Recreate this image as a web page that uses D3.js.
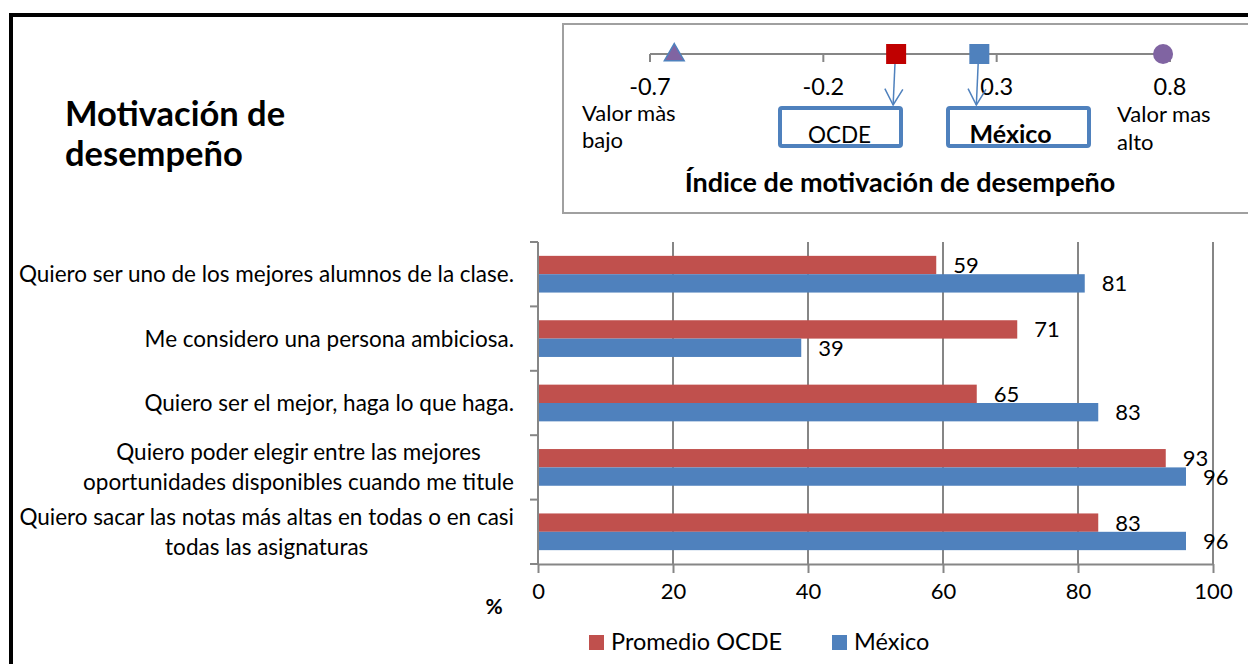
<!DOCTYPE html>
<html lang="es">
<head>
  <meta charset="UTF-8" />
  <title>Motivación de desempeño</title>
  <script src="https://d3js.org/d3.v7.min.js"></script>
  <style>
    body {
      margin: 0;
      padding: 0;
      background: #fff;
      font-family: Lato, "Open Sans", sans-serif;
    }

    svg text {
      fill: #000;
    }

    .grid line,
    .axis path,
    .axis line {
      stroke: #868686;
      stroke-width: 2;
    }
  </style>
</head>

<body>
  <script>
    // categories, top to bottom (multi-line labels split with "|")
    var categories = [
      "Quiero ser uno de los mejores alumnos de la clase.",
      "Me considero una persona ambiciosa.",
      "Quiero ser el mejor, haga lo que haga.",
      "Quiero poder elegir entre las mejores|oportunidades disponibles cuando me titule",
      "Quiero sacar las notas más altas en todas o en casi|todas las asignaturas"
    ];
    var seriesNames = ["Promedio OCDE", "México"];
    var ocdeValues = [59, 71, 65, 93, 83];
    var mexicoValues = [81, 39, 83, 96, 96];
    var xTicks = [0, 20, 40, 60, 80, 100];

    // index of performance motivation (inset)
    var indexTicks = [-0.7, -0.2, 0.3, 0.8];
    var indexMin = -0.63;
    var indexOcde = 0.01;
    var indexMexico = 0.25;
    var indexMax = 0.78;

    var colors = { "Promedio OCDE": "#c0504d", "México": "#4f81bd" };

    var W = 1248, H = 664;
    var svg = d3.select("body").append("svg")
      .attr("width", W)
      .attr("height", H);

    // outer black frame (runs off the right and bottom edges)
    svg.append("rect")
      .attr("x", 11).attr("y", 15)
      .attr("width", 1400).attr("height", 800)
      .attr("fill", "none")
      .attr("stroke", "#000")
      .attr("stroke-width", 4);

    // title
    var title = svg.append("text")
      .style("font-size", "34.5px")
      .style("font-weight", "bold");
    title.append("tspan").attr("x", 65).attr("y", 126).text("Motivación de");
    title.append("tspan").attr("x", 65).attr("y", 166).text("desempeño");

    // ---- inset: índice de motivación ----
    svg.append("rect")
      .attr("x", 563).attr("y", 24)
      .attr("width", 800).attr("height", 189)
      .attr("fill", "#fff")
      .attr("stroke", "#a0a0a0")
      .attr("stroke-width", 2);

    var ix = d3.scaleLinear().domain([-0.7, 0.8]).range([650, 1170]);
    var iy = 54;

    var idx = svg.append("g");
    idx.append("line")
      .attr("x1", ix(-0.7)).attr("x2", ix(indexMax))
      .attr("y1", iy).attr("y2", iy)
      .attr("stroke", "#868686").attr("stroke-width", 2);
    idx.selectAll(".itick")
      .data(indexTicks)
      .enter().append("line")
      .attr("x1", function (d) { return ix(d); })
      .attr("x2", function (d) { return ix(d); })
      .attr("y1", iy).attr("y2", iy + 8)
      .attr("stroke", "#868686").attr("stroke-width", 2);
    idx.selectAll(".ilabel")
      .data(indexTicks)
      .enter().append("text")
      .attr("x", function (d) { return ix(d); })
      .attr("y", 95)
      .attr("text-anchor", "middle")
      .style("font-size", "23.5px")
      .text(function (d) { return d.toFixed(1); });

    // arrow heads
    var defs = svg.append("defs");
    defs.append("marker")
      .attr("id", "arrow")
      .attr("viewBox", "0 0 20 20")
      .attr("refX", 18).attr("refY", 10)
      .attr("markerWidth", 20).attr("markerHeight", 20)
      .attr("markerUnits", "userSpaceOnUse")
      .attr("orient", "auto")
      .append("path")
      .attr("d", "M2,1 L18,10 L2,19")
      .attr("fill", "none")
      .attr("stroke", "#4f81bd")
      .attr("stroke-width", 1.5);

    // boxes under the axis
    var boxes = [
      { name: "OCDE", v: indexOcde, x: 780, w: 121, bold: false, dx: -1 },
      { name: "México", v: indexMexico, x: 948, w: 141, bold: true, dx: -8 }
    ];
    idx.selectAll(".ibox")
      .data(boxes)
      .enter().append("rect")
      .attr("x", function (d) { return d.x; })
      .attr("y", 108)
      .attr("width", function (d) { return d.w; })
      .attr("height", 38)
      .attr("rx", 2)
      .attr("fill", "none")
      .attr("stroke", "#4f81bd")
      .attr("stroke-width", 4);
    idx.selectAll(".iboxlabel")
      .data(boxes)
      .enter().append("text")
      .attr("x", function (d) { return d.x + d.w / 2 + d.dx; })
      .attr("y", 143)
      .attr("text-anchor", "middle")
      .style("font-size", function (d) { return d.bold ? "25px" : "22.5px"; })
      .style("font-weight", function (d) { return d.bold ? "bold" : "normal"; })
      .text(function (d) { return d.name; });
    idx.selectAll(".iarrow")
      .data(boxes)
      .enter().append("line")
      .attr("x1", function (d) { return ix(d.v) - 1; })
      .attr("x2", function (d) { return ix(d.v) - 3; })
      .attr("y1", iy + 6).attr("y2", 105)
      .attr("stroke", "#4f81bd")
      .attr("stroke-width", 1.5)
      .attr("marker-end", "url(#arrow)");

    // markers on the axis
    var sym = d3.symbol().type(d3.symbolTriangle).size(170);
    idx.append("path")
      .attr("d", sym())
      .attr("transform", "translate(" + ix(indexMin) + "," + (iy + 1) + ")")
      .attr("fill", "#8064a2")
      .attr("stroke", "#4f81bd")
      .attr("stroke-width", 1.5);
    idx.append("rect")
      .attr("x", ix(indexOcde) - 10).attr("y", iy - 10)
      .attr("width", 20).attr("height", 20)
      .attr("fill", "#c00000");
    idx.append("rect")
      .attr("x", ix(indexMexico) - 10).attr("y", iy - 10)
      .attr("width", 20).attr("height", 20)
      .attr("fill", "#4f81bd");
    idx.append("circle")
      .attr("cx", ix(indexMax)).attr("cy", iy)
      .attr("r", 10)
      .attr("fill", "#8064a2");

    // end labels
    var lowLab = idx.append("text").style("font-size", "22px");
    lowLab.append("tspan").attr("x", 582).attr("y", 121).text("Valor màs");
    lowLab.append("tspan").attr("x", 582).attr("y", 148).text("bajo");
    var highLab = idx.append("text").style("font-size", "22px");
    highLab.append("tspan").attr("x", 1117).attr("y", 122).text("Valor mas");
    highLab.append("tspan").attr("x", 1117).attr("y", 150).text("alto");

    idx.append("text")
      .attr("x", 900).attr("y", 192)
      .attr("text-anchor", "middle")
      .style("font-size", "27px")
      .style("font-weight", "bold")
      .text("Índice de motivación de desempeño");

    // ---- bar chart ----
    var plot = { left: 538, right: 1213, top: 242, bottom: 564 };

    var x = d3.scaleLinear().domain([0, 100]).range([plot.left, plot.right]);
    var y = d3.scaleBand().domain(categories)
      .range([plot.top, plot.bottom])
      .paddingInner(0.43).paddingOuter(0.215);
    var ySeries = d3.scaleBand().domain(seriesNames).range([0, y.bandwidth()]);

    var rows = categories.map(function (c, i) {
      return { cat: c, values: [
        { series: seriesNames[0], v: ocdeValues[i] },
        { series: seriesNames[1], v: mexicoValues[i] }
      ] };
    });

    // vertical gridlines
    svg.append("g").attr("class", "grid")
      .selectAll("line")
      .data(xTicks.slice(1))
      .enter().append("line")
      .attr("x1", function (d) { return x(d); })
      .attr("x2", function (d) { return x(d); })
      .attr("y1", plot.top).attr("y2", plot.bottom);

    // bottom axis
    var xAxis = svg.append("g").attr("class", "axis")
      .attr("transform", "translate(0," + plot.bottom + ")")
      .call(d3.axisBottom(x).tickValues(xTicks).tickSize(9).tickSizeOuter(0).tickPadding(10));
    xAxis.selectAll("text")
      .style("font-size", "22px")
      .style("font-family", "Lato, sans-serif")
      .attr("fill", "#000");

    // left axis: line plus ticks at category boundaries
    var boundaries = d3.range(categories.length + 1).map(function (i) {
      return plot.top + i * y.step();
    });
    var yAxisG = svg.append("g").attr("class", "axis");
    yAxisG.append("line")
      .attr("x1", plot.left).attr("x2", plot.left)
      .attr("y1", plot.top).attr("y2", plot.bottom);
    yAxisG.selectAll(".btick")
      .data(boundaries)
      .enter().append("line")
      .attr("x1", plot.left - 8).attr("x2", plot.left)
      .attr("y1", function (d) { return d; })
      .attr("y2", function (d) { return d; });

    // bars
    var groups = svg.selectAll(".cat")
      .data(rows)
      .enter().append("g")
      .attr("transform", function (d) { return "translate(0," + y(d.cat) + ")"; });

    groups.selectAll("rect")
      .data(function (d) { return d.values; })
      .enter().append("rect")
      .attr("x", plot.left + 1)
      .attr("y", function (d) { return ySeries(d.series); })
      .attr("width", function (d) { return x(d.v) - plot.left - 1; })
      .attr("height", ySeries.bandwidth())
      .attr("fill", function (d) { return colors[d.series]; });

    groups.selectAll(".val")
      .data(function (d) { return d.values; })
      .enter().append("text")
      .attr("x", function (d) { return x(d.v) + 17; })
      .attr("y", function (d) { return ySeries(d.series) + ySeries.bandwidth() / 2 + 8; })
      .style("font-size", "22px")
      .text(function (d) { return d.v; });

    // category labels, lines centred on each other, block right-aligned
    var labelRight = 514;
    svg.selectAll(".catlabel")
      .data(categories)
      .enter().append("text")
      .attr("class", "catlabel")
      .style("font-size", "22.5px")
      .each(function (c) {
        var t = d3.select(this);
        var lines = c.split("|");
        var cy = y(c) + y.bandwidth() / 2 + 8;
        var lh = 30;
        lines.forEach(function (ln, k) {
          t.append("tspan")
            .attr("y", cy + (k - (lines.length - 1) / 2) * lh)
            .text(ln);
        });
        // measure widest line and centre all lines in it
        var widths = [];
        t.selectAll("tspan").each(function () { widths.push(this.getComputedTextLength()); });
        var maxW = d3.max(widths);
        t.selectAll("tspan")
          .attr("text-anchor", "middle")
          .attr("x", labelRight - maxW / 2);
      });

    // "%" axis label
    svg.append("text")
      .attr("x", 494).attr("y", 614)
      .attr("text-anchor", "middle")
      .style("font-size", "21px")
      .style("font-weight", "bold")
      .text("%");

    // legend
    var legendX = [589, 832];
    var legend = svg.selectAll(".legend")
      .data(seriesNames)
      .enter().append("g")
      .attr("transform", function (d, i) { return "translate(" + legendX[i] + ",635)"; });
    legend.append("rect")
      .attr("width", 15).attr("height", 15)
      .attr("fill", function (d) { return colors[d]; });
    legend.append("text")
      .attr("x", 22).attr("y", 15)
      .style("font-size", "23.5px")
      .text(function (d) { return d; });
  </script>
</body>

</html>
